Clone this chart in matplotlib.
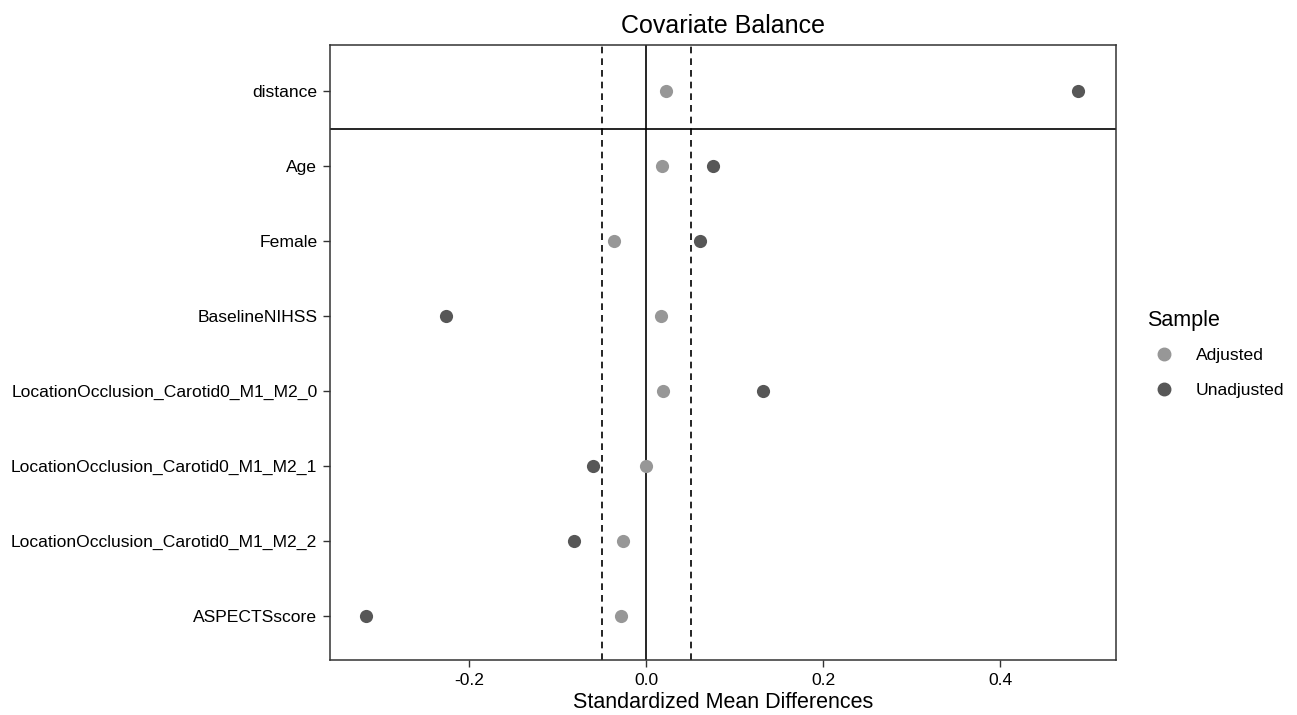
import matplotlib
matplotlib.use("Agg")
import matplotlib.pyplot as plt
from matplotlib.lines import Line2D

covariates = [
    "distance",
    "Age",
    "Female",
    "BaselineNIHSS",
    "LocationOcclusion_Carotid0_M1_M2_0",
    "LocationOcclusion_Carotid0_M1_M2_1",
    "LocationOcclusion_Carotid0_M1_M2_2",
    "ASPECTSscore",
]
adjusted = [0.0225, 0.018, -0.037, 0.016, 0.019, -0.001, -0.026, -0.029]
unadjusted = [0.488, 0.0755, 0.061, -0.2265, 0.132, -0.060, -0.082, -0.317]
xticks = [-0.2, 0.0, 0.2, 0.4]
threshold = 0.05

plt.rcParams["font.family"] = ["Liberation Sans", "DejaVu Sans"]

fig = plt.figure(figsize=(12.97, 7.15), dpi=100)
ax = fig.add_axes([0.2544, 0.0769, 0.6060, 0.8601])

n = len(covariates)
ypos = list(range(n, 0, -1))

col_adj = "#979797"
col_unadj = "#575757"

ax.axvline(0, color="black", lw=1.2, zorder=1)
ax.axvline(-threshold, color="black", lw=1.2, ls=(0, (4, 3)), zorder=1)
ax.axvline(threshold, color="black", lw=1.2, ls=(0, (4, 3)), zorder=1)
ax.axhline(n - 0.5, color="black", lw=1.2, zorder=1)

ax.scatter(adjusted, ypos, s=90, color=col_adj, zorder=3, linewidths=0)
ax.scatter(unadjusted, ypos, s=90, color=col_unadj, zorder=3, linewidths=0)

ax.set_xlim(-0.3575, 0.5305)
ax.set_ylim(0.413, n + 0.613)
ax.set_yticks(ypos)
ax.set_yticklabels(covariates, fontsize=12.6, color="black")
ax.set_xticks(xticks)
ax.set_xticklabels([f"{v:.1f}" for v in xticks], fontsize=12.6, color="black")
ax.tick_params(length=5, width=1, color="#333333", pad=4)
for sp in ax.spines.values():
    sp.set_linewidth(1.1)
    sp.set_color("#333333")

ax.set_xlabel("Standardized Mean Differences", fontsize=15.5, labelpad=3)
ax.set_title("Covariate Balance", fontsize=18, pad=9)

handles = [
    Line2D([], [], marker="o", ls="", color=col_adj, markersize=9, label="Adjusted"),
    Line2D([], [], marker="o", ls="", color=col_unadj, markersize=9, label="Unadjusted"),
]
leg = fig.legend(handles=handles, title="Sample", loc="center left",
                 bbox_to_anchor=(0.872, 0.505), frameon=False, fontsize=12.6,
                 title_fontsize=15.5, handletextpad=0.8, labelspacing=1.1)
leg._legend_box.align = "left"
leg._legend_box.sep = 12

fig.savefig("out.png", dpi=100)
